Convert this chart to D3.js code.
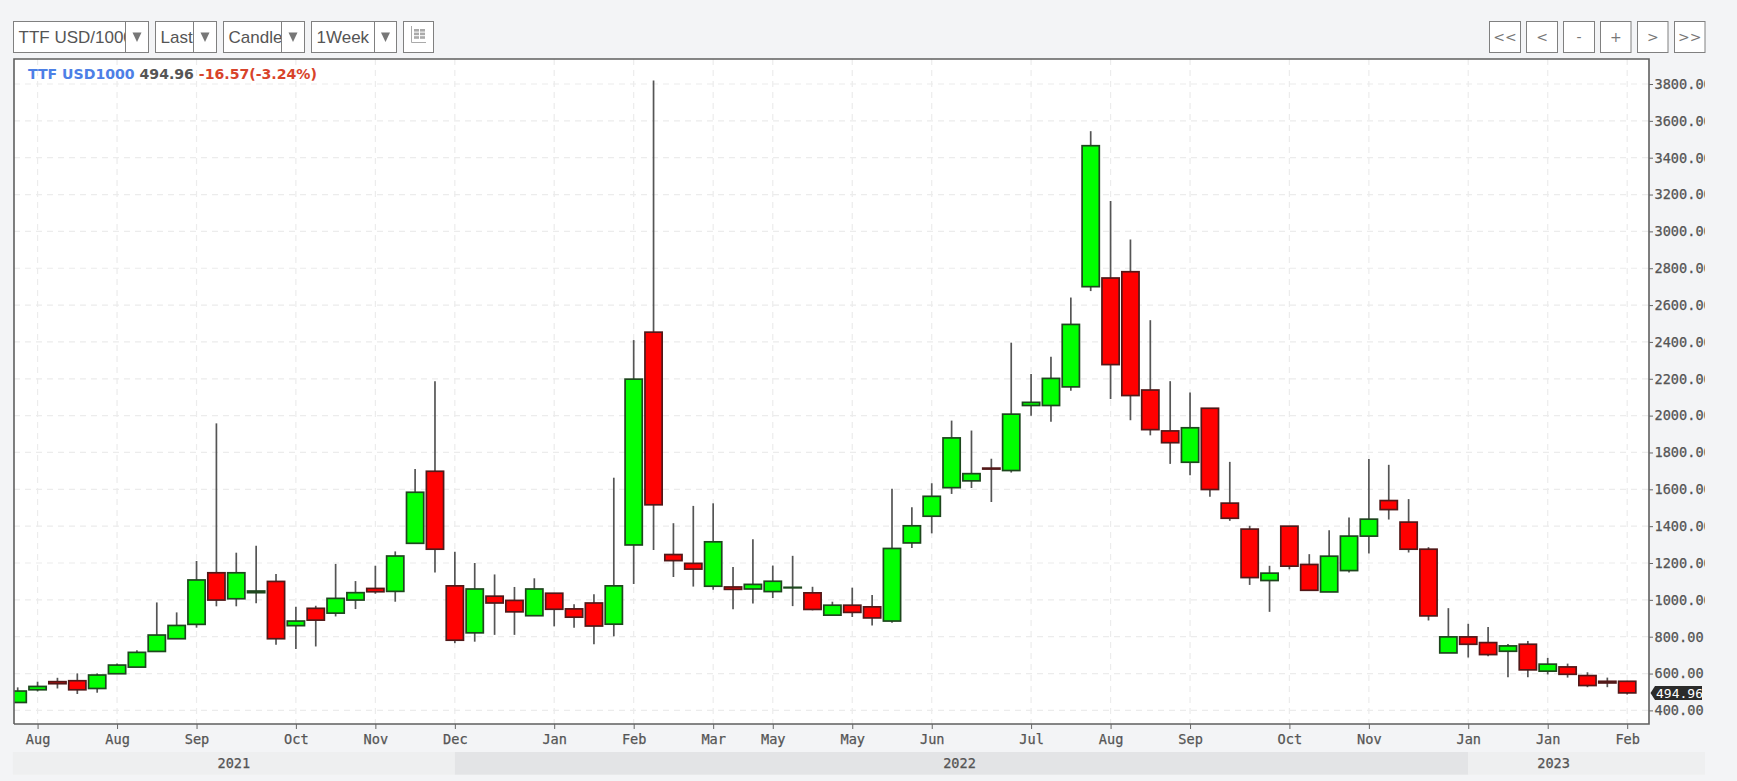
<!DOCTYPE html>
<html><head><meta charset="utf-8"><title>TTF USD/1000</title>
<script src="https://cdnjs.cloudflare.com/ajax/libs/d3/7.8.5/d3.min.js"></script>
<style>
html,body{margin:0;padding:0;background:#f3f4f6;overflow:hidden}
svg{display:block}
.mono{font-family:"DejaVu Sans Mono",monospace;font-size:13.6px;fill:#555;stroke:#555;stroke-width:.25px}
.ui{font-family:"Liberation Sans",Arial,sans-serif;font-size:17px;fill:#555}
</style></head><body><div id="c"></div>
<script>
const opens=[443,512,556,561,519,599,635,720,789,867,1147,1006,1039,1100,860,954,928,999,1062,1046,1307,1698,1076,821,1020,997,914,1036,951,983,868,1298,2453,1246,1198,1074,1070,1059,1045,1068,1038,917,971,962,885,1309,1454,1609,1646,1715,1702,2055,2055,2156,2700,2747,2781,2139,1917,1747,2040,1525,1384,1105,1400,1192,1043,1159,1346,1539,1422,1275,712,799,768,721,759,613,636,589,558,558];
const closes=[505,530,545,512,592,646,715,809,861,1108,999,1147,1048,789,885,890,1008,1039,1044,1238,1584,1275,781,1059,983,935,1059,949,906,858,1076,2198,1516,1213,1167,1315,1057,1084,1101,1068,948,971,932,902,1279,1402,1562,1879,1685,1710,2008,2072,2202,2495,3465,2277,2109,1924,1853,1934,1599,1443,1121,1145,1183,1052,1237,1346,1438,1490,1275,913,799,759,703,750,620,651,596,535,549,495];
const highs=[525,556,577,601,601,655,726,986,932,1211,1958,1256,1294,1140,963,968,1195,1102,1185,1263,1710,2186,1261,1200,1138,1070,1117,1036,976,1030,1663,2410,3819,1416,1510,1524,1178,1329,1186,1239,1071,990,1066,1027,1603,1503,1633,1973,1919,1766,2396,2226,2320,2641,3544,3165,2956,2518,2187,2126,2040,1749,1402,1185,1400,1248,1378,1447,1764,1733,1547,1286,955,870,853,761,777,685,654,607,578,560];
const lows=[443,503,519,489,496,599,635,720,789,849,965,965,981,757,733,747,910,950,1033,990,1305,1148,765,773,810,810,914,856,848,759,802,1086,1271,1124,1072,1055,949,980,1010,966,943,917,907,861,876,1282,1361,1575,1607,1531,1691,1999,1967,2135,2676,2090,1975,1893,1738,1676,1560,1429,1081,935,1166,1052,1043,1148,1252,1436,1257,888,712,687,694,580,580,595,578,526,526,486];
const yTicks=[400,600,800,1000,1200,1400,1600,1800,2000,2200,2400,2600,2800,3000,3200,3400,3600,3800];
const xTickIndex=[1,5,9,14,18,22,27,31,35,38,42,46,51,55,59,64,68,73,77,81];
const xTickLabels=["Aug","Aug","Sep","Oct","Nov","Dec","Jan","Feb","Mar","May","May","Jun","Jul","Aug","Sep","Oct","Nov","Jan","Jan","Feb"];
const yearLabels=["2021","2022","2023"];
const yearStartIndex=[-0.24,22,73];
const lastPrice=494.96, change="-16.57(-3.24%)", symbol="TTF USD1000";
const selects=["TTF USD/1000","Last","Candle","1Week"];
const navLabels=["<<","<","-","+",">",">>"];

const W=1737,H=781,L=14,R=1649,T=59,B=724,LBL=1705;
const svg=d3.select("#c").append("svg").attr("width",W).attr("height",H);
const x=d3.scaleLinear().domain([0,81]).range([17.7,1627.2]);
const y=d3.scaleLinear().domain([400,3800]).range([710.4,84]);
const defs=svg.append("defs");
defs.append("clipPath").attr("id","plot").append("rect").attr("x",L).attr("y",T).attr("width",R-L).attr("height",B-T);

/* toolbar */
const selBoxes=[[13.5,125.5,148.5],[155.5,193.5,216.5],[223.5,281.5,304.5],[311.5,374.5,396.5]];
selBoxes.forEach((b,i)=>{
  const g=svg.append("g");
  g.append("rect").attr("x",b[0]).attr("y",21.5).attr("width",b[2]-b[0]).attr("height",31).attr("fill","#fff").attr("stroke","#808080");
  const id="sc"+i;
  defs.append("clipPath").attr("id",id).append("rect").attr("x",b[0]).attr("y",21).attr("width",b[1]-b[0]).attr("height",32);
  g.append("text").attr("class","ui").attr("x",b[0]+5).attr("y",43).attr("clip-path",`url(#${id})`).text(selects[i]);
  g.append("line").attr("x1",b[1]).attr("x2",b[1]).attr("y1",21.5).attr("y2",52.5).attr("stroke","#808080");
  const cx=(b[1]+b[2])/2;
  g.append("path").attr("d",`M${cx-4.5},32.5L${cx+4.5},32.5L${cx},42Z`).attr("fill","#777");
});
const ib=svg.append("g");
ib.append("rect").attr("x",403.5).attr("y",21.5).attr("width",30).attr("height",31).attr("fill","#fff").attr("stroke","#808080");
ib.append("path").attr("d","M411.5,26V42.5H426").attr("fill","none").attr("stroke","#aaa");
d3.range(3).forEach(r=>d3.range(2).forEach(c=>ib.append("rect").attr("x",414+c*6).attr("y",29+r*3.6).attr("width",5).attr("height",2.6).attr("fill","#aaa")));
const navBoxes=[1489.5,1526.5,1563.5,1600.5,1637.5,1674.5];
navLabels.forEach((t,i)=>{
  const w=i>=3?30.5:31;
  svg.append("rect").attr("x",navBoxes[i]).attr("y",21.5).attr("width",w).attr("height",31).attr("fill","#fff").attr("stroke","#808080");
  svg.append("text").attr("x",navBoxes[i]+w/2).attr("y",42).attr("text-anchor","middle")
    .style("font-family",'"DejaVu Sans",sans-serif').style("font-size","14px").attr("fill","#777").text(t);
});

/* plot background */
svg.append("rect").attr("x",L).attr("y",T).attr("width",R-L).attr("height",B-T).attr("fill","#fff");
const grid=svg.append("g").attr("clip-path","url(#plot)").attr("stroke","#ececec").attr("stroke-dasharray","6,5").attr("stroke-width",1.2);
grid.selectAll(".h").data(yTicks).join("line").attr("x1",L).attr("x2",R).attr("y1",d=>y(d)).attr("y2",d=>y(d));
grid.selectAll(".v").data(xTickIndex).join("line").attr("y1",T).attr("y2",B).attr("x1",d=>x(d)).attr("x2",d=>x(d));

/* candles */
const idx=d3.range(opens.length);
const cg=svg.append("g").attr("clip-path","url(#plot)");
cg.selectAll("line.w").data(idx).join("line").attr("class","w")
  .attr("x1",i=>x(i)).attr("x2",i=>x(i)).attr("y1",i=>y(highs[i])).attr("y2",i=>y(lows[i]))
  .attr("stroke","#555").attr("stroke-width",1.7);
cg.selectAll("rect.b").data(idx).join("rect").attr("class","b")
  .attr("x",i=>x(i)-8.6).attr("width",17.2)
  .attr("y",i=>y(Math.max(opens[i],closes[i])))
  .attr("height",i=>Math.max(0.5,Math.abs(y(opens[i])-y(closes[i]))))
  .attr("fill",i=>closes[i]>=opens[i]?"#00ff00":"#ff0000")
  .attr("stroke",i=>closes[i]>=opens[i]?"#1d471d":"#521818").attr("stroke-width",1.7);

/* frame */
svg.append("path").attr("d",`M${L},${B}L${L},${T}L${R},${T}L${R},${B}L${L},${B}`).attr("fill","none").attr("stroke","#5f5f5f").attr("stroke-width",1.6);

/* axes */
defs.append("clipPath").attr("id","labO").append("rect").attr("x",0).attr("y",T-10).attr("width",LBL-R).attr("height",B-T+20);
const ay=svg.append("g").attr("transform",`translate(${R},0)`).attr("clip-path","url(#labO)")
  .call(d3.axisRight(y).tickValues(yTicks).tickFormat(d3.format(".2f")).tickSize(4).tickPadding(1.5));
ay.select(".domain").remove();
ay.attr("font-family",null).attr("font-size",null);
ay.selectAll("line").attr("stroke","#666");
ay.selectAll("text").attr("class","mono");

const ax=svg.append("g").attr("transform",`translate(0,${B})`)
  .call(d3.axisBottom(x).tickValues(xTickIndex).tickFormat((d,i)=>xTickLabels[i]).tickSize(5).tickPadding(5));
ax.select(".domain").remove();
ax.attr("font-family",null).attr("font-size",null);
ax.selectAll("line").attr("stroke","#666");
ax.selectAll("text").attr("class","mono");

/* year band */
const yrs=yearStartIndex.map((s,i)=>({s:x(s),e:i<2?x(yearStartIndex[i+1]):LBL,t:yearLabels[i],i}));
svg.selectAll("rect.yr").data(yrs).join("rect").attr("class","yr")
  .attr("x",d=>d.s).attr("width",d=>d.e-d.s).attr("y",752).attr("height",22.7)
  .attr("fill",d=>d.i==1?"#e3e4e6":"#eeeff0");
svg.selectAll("text.yt").data(yrs).join("text").attr("class","yt mono")
  .attr("x",d=>(d.s+Math.min(d.e,R-10))/2-(d.i==1?2:0)).attr("y",768).attr("text-anchor","middle").text(d=>d.t);

/* last price marker */
const ly=y(lastPrice);
svg.append("path").attr("d",`M${R+1.5},${ly}L${R+6},${ly-7}L${LBL-3},${ly-7}L${LBL-3},${ly+7}L${R+6},${ly+7}Z`).attr("fill","#2b2b2b");
svg.append("text").attr("x",R+7).attr("y",ly+4.6).style("font-family",'"DejaVu Sans Mono",monospace').style("font-size","13px").style("fill","#fff").text(lastPrice.toFixed(2));

/* header */
const hd=svg.append("text").attr("x",28).attr("y",78.8).style("font-family",'"DejaVu Sans",sans-serif').style("font-size","14.1px").style("font-weight","bold");
hd.append("tspan").attr("fill","#4d80e6").text(symbol+" ");
hd.append("tspan").attr("fill","#555").text(lastPrice.toFixed(2)+" ");
hd.append("tspan").attr("fill","#d8432b").text(change);
</script></body></html>
